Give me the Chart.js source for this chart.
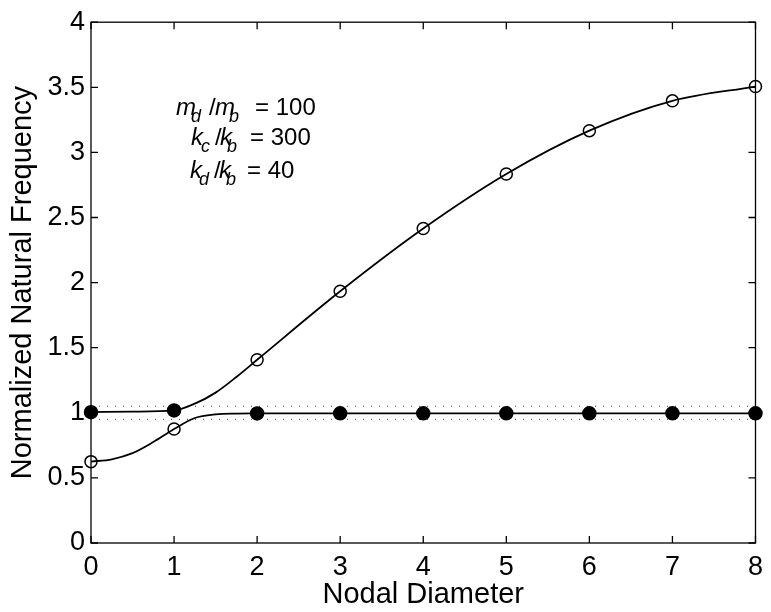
<!DOCTYPE html>
<html>
<head>
<meta charset="utf-8">
<style>
  html, body { margin: 0; padding: 0; background: #fff; }
  #wrap { width: 771px; height: 612px; }
</style>
<script src="https://cdn.jsdelivr.net/npm/chart.js@4"></script>
</head>
<body>
<div id="wrap"><canvas id="chart" width="771" height="612"></canvas></div>
<script>
// nodal diameters with markers
const nodes = [0, 1, 2, 3, 4, 5, 6, 7, 8];
const upperAtNodes = [1.005, 1.018, 1.407, 1.933, 2.415, 2.834, 3.167, 3.396, 3.506];
const lowerAtNodes = [0.625, 0.875, 0.995, 0.996, 0.996, 0.996, 0.996, 0.996, 0.996];
// which markers are filled (the rest are open circles)
const upperFilled = [true, true, false, false, false, false, false, false, false];
const lowerFilled = [false, false, true, true, true, true, true, true, true];

const upperCurveX = [0, 0.5, 1, 1.25, 1.5, 1.75, 2, 3, 4, 5, 6, 7, 8];
const upperCurveY = [1.005, 1.009, 1.018, 1.07, 1.155, 1.275, 1.407, 1.933, 2.415, 2.834, 3.167, 3.396, 3.506];
const lowerCurveX = [0, 0.25, 0.5, 0.75, 1, 1.25, 1.5, 1.75, 2, 3, 4, 5, 6, 7, 8];
const lowerCurveY = [0.625, 0.643, 0.69, 0.775, 0.875, 0.96, 0.988, 0.994, 0.995, 0.996, 0.996, 0.996, 0.996, 0.996, 0.996];

// dotted band around 1
const bandX = [0, 8];
const bandHigh = 1.05;
const bandLow = 0.95;

const xTitle = 'Nodal Diameter';
const yTitle = 'Normalized Natural Frequency';

const pts = (xs, ys) => xs.map((x, i) => ({ x: x, y: ys[i] }));
const flat = (xs, v) => xs.map(x => ({ x: x, y: v }));

function markerSet(ys, filled) {
    return {
        data: pts(nodes, ys),
        showLine: false,
        pointRadius: filled.map(f => f ? 6.5 : 6),
        pointBorderWidth: 1.5,
        pointBorderColor: '#000',
        pointBackgroundColor: filled.map(f => f ? '#000' : 'rgba(255,255,255,0)'),
        clip: false,
        order: 0
    };
}

function curveSet(xs, ys) {
    return {
        data: pts(xs, ys),
        showLine: true,
        borderColor: '#000',
        borderWidth: 1.8,
        pointRadius: 0,
        cubicInterpolationMode: 'monotone',
        order: 1
    };
}

function bandSet(v) {
    return {
        data: flat(bandX, v),
        showLine: true,
        borderColor: '#444',
        borderWidth: 1,
        borderDash: [1, 7],
        pointRadius: 0,
        order: 2
    };
}

// box and inward ticks, matlab style
const frame = {
    id: 'frame',
    beforeDatasetsDraw(chart) {
        const ctx = chart.ctx;
        const a = chart.chartArea;
        const xs = chart.scales.x, ys = chart.scales.y;
        ctx.save();
        ctx.strokeStyle = '#000';
        ctx.lineWidth = 1.3;
        ctx.beginPath();
        xs.ticks.forEach(t => {
            const px = xs.getPixelForValue(t.value);
            ctx.moveTo(px, a.bottom); ctx.lineTo(px, a.bottom - 7);
            ctx.moveTo(px, a.top); ctx.lineTo(px, a.top + 7);
        });
        ys.ticks.forEach(t => {
            const py = ys.getPixelForValue(t.value);
            ctx.moveTo(a.left, py); ctx.lineTo(a.left + 7, py);
            ctx.moveTo(a.right, py); ctx.lineTo(a.right - 7, py);
        });
        ctx.stroke();
        ctx.strokeRect(a.left, a.top, a.right - a.left, a.bottom - a.top);
        ctx.restore();
    },
    afterDraw(chart) {
        const ctx = chart.ctx;
        ctx.save();
        ctx.fillStyle = '#000';
        ctx.textBaseline = 'alphabetic';
        const big = 'italic 24px "Liberation Sans", Arial, sans-serif';
        const sub = 'italic 18px "Liberation Sans", Arial, sans-serif';
        const norm = '24px "Liberation Sans", Arial, sans-serif';
        const put = (s, x, y, f) => { ctx.font = f; ctx.fillText(s, x, y); };
        // m_d / m_b = 100
        put('m', 176, 115, big); put('d', 191, 122, sub);
        put('/', 209, 115, norm); put('m', 215, 115, big); put('b', 229, 122, sub);
        put('= 100', 255, 115, norm);
        // k_c / k_b = 300
        put('k', 191, 145, big); put('c', 201, 152, sub);
        put('/', 215, 145, norm); put('k', 220, 145, big); put('b', 227, 152, sub);
        put('= 300', 250, 145, norm);
        // k_d / k_b = 40
        put('k', 190, 178, big); put('d', 199, 185, sub);
        put('/', 214, 178, norm); put('k', 219, 178, big); put('b', 226, 185, sub);
        put('= 40', 247, 178, norm);
        ctx.restore();
    }
};

const tickFont = { family: '"Liberation Sans", Arial, sans-serif', size: 27 };
const titleFont = { family: '"Liberation Sans", Arial, sans-serif', size: 29 };

new Chart(document.getElementById('chart'), {
    type: 'scatter',
    data: {
        datasets: [
            markerSet(upperAtNodes, upperFilled),
            markerSet(lowerAtNodes, lowerFilled),
            curveSet(upperCurveX, upperCurveY),
            curveSet(lowerCurveX, lowerCurveY),
            bandSet(bandHigh),
            bandSet(bandLow)
        ]
    },
    options: {
        responsive: false,
        animation: false,
        layout: { padding: { left: 0, right: 13, top: 14, bottom: 0 } },
        plugins: { legend: { display: false }, tooltip: { enabled: false } },
        scales: {
            x: {
                type: 'linear', min: 0, max: 8,
                ticks: { stepSize: 1, color: '#000', font: tickFont, padding: 8, maxRotation: 0 },
                grid: { display: false, drawTicks: false },
                border: { display: false },
                title: { display: true, text: xTitle, color: '#000', font: titleFont, padding: { top: 0, bottom: 0 } },
                afterFit: s => { s.height = 69; }
            },
            y: {
                type: 'linear', min: 0, max: 4,
                ticks: { stepSize: 0.5, color: '#000', font: tickFont, padding: 6, callback: v => String(v) },
                grid: { display: false, drawTicks: false },
                border: { display: false },
                title: { display: true, text: yTitle, color: '#000', font: titleFont, padding: { top: 6, bottom: 0 } },
                afterFit: s => { s.width = 91; }
            }
        }
    },
    plugins: [frame]
});
</script>
</body>
</html>
